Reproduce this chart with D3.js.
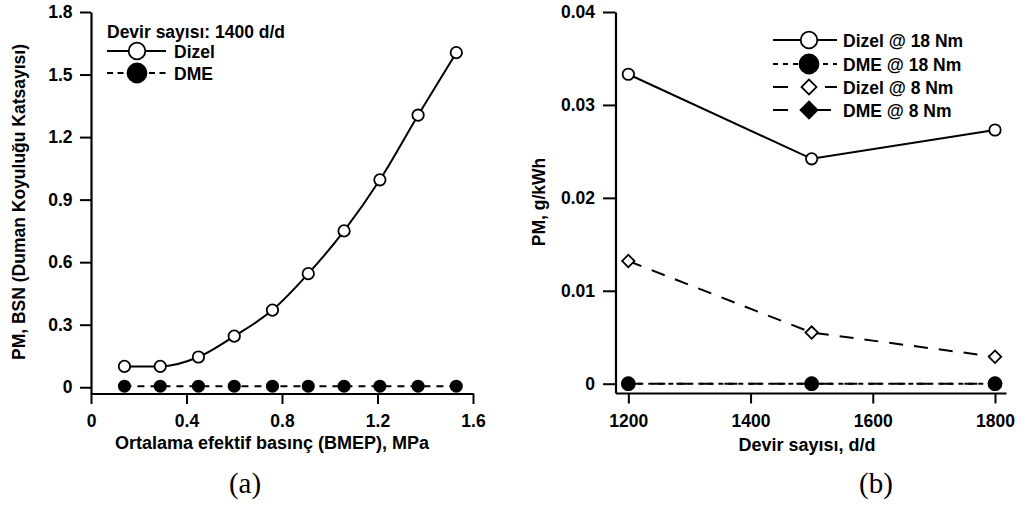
<!DOCTYPE html>
<html>
<head>
<meta charset="utf-8">
<script src="https://cdn.jsdelivr.net/npm/d3@7"></script>
<style>
  html, body { margin: 0; padding: 0; background: #fff; }
  svg { display: block; }
  text { font-family: "Liberation Sans", Arial, Helvetica, sans-serif; font-weight: bold; fill: #000; }
  .panel-tag { font-family: "Liberation Serif", "Times New Roman", serif; font-weight: normal; }
</style>
</head>
<body>
<svg id="chart" width="1018" height="505"></svg>
<script>
// ---- Panel (a): PM (BSN) vs BMEP at 1400 rpm ----
const bmep = [0.14, 0.29, 0.45, 0.60, 0.76, 0.91, 1.06, 1.21, 1.37, 1.53];
const bsnDizel = [0.10, 0.10, 0.145, 0.245, 0.37, 0.545, 0.75, 0.995, 1.305, 1.605];
const bsnDME = [0.005, 0.005, 0.005, 0.005, 0.005, 0.005, 0.005, 0.005, 0.005, 0.005];
const aXTicks = [0, 0.4, 0.8, 1.2, 1.6];
const aYTicks = [0, 0.3, 0.6, 0.9, 1.2, 1.5, 1.8];

// ---- Panel (b): PM (g/kWh) vs engine speed ----
const speeds = [1200, 1500, 1800];
const pmDizel18 = [0.0333, 0.0242, 0.0273];
const pmDME18 = [0, 0, 0];
const pmDizel8 = [0.0132, 0.0055, 0.0029];
const pmDME8 = [0, 0, 0];
const bXTicks = [1200, 1400, 1600, 1800];
const bYTicks = [0, 0.01, 0.02, 0.03, 0.04];

const svg = d3.select("#chart");
svg.append("rect").attr("width", 1018).attr("height", 505).attr("fill", "#fff");

const FS = "17.5px";

function styleAxis(g) {
  g.selectAll("path.domain").attr("stroke", "#000").attr("stroke-width", 2.2);
  g.selectAll(".tick line").attr("stroke", "#000").attr("stroke-width", 2);
  g.selectAll(".tick text").style("font-size", FS).attr("font-family", null);
  g.attr("font-family", null).attr("font-size", null);
}

// marker path generators
const circlePath = r => d3.symbol().type(d3.symbolCircle).size(Math.PI * r * r)();
const diamondPath = r => d3.symbol().type(d3.symbolSquare).size(2 * r * r)(); // rotated 45° when placed

// ================= Panel (a) =================
const ax = d3.scaleLinear().domain([0, 1.6]).range([91, 473]);
const ay = d3.scaleLinear().domain([-0.03, 1.8]).range([393.5, 12]);

const gaX = svg.append("g").attr("transform", "translate(0,393.5)")
  .call(d3.axisBottom(ax).tickValues(aXTicks).tickSizeOuter(0).tickSizeInner(10.5).tickPadding(11)
    .tickFormat(d => d === 0 ? "0" : d3.format(".1f")(d)));
styleAxis(gaX);

const gaY = svg.append("g").attr("transform", "translate(91,0)")
  .call(d3.axisLeft(ay).tickValues(aYTicks).tickSizeOuter(0).tickSizeInner(11).tickPadding(7.5)
    .tickFormat(d => d === 0 ? "0" : d3.format(".1f")(d)));
styleAxis(gaY);

svg.append("text").attr("x", 272).attr("y", 449).attr("text-anchor", "middle")
  .style("font-size", "18px").text("Ortalama efektif basınç (BMEP), MPa");
svg.append("text").attr("transform", "translate(25,202) rotate(-90)").attr("text-anchor", "middle")
  .style("font-size", FS).text("PM, BSN (Duman Koyuluğu Katsayısı)");

const aDizelPts = bmep.map((x, i) => [x, bsnDizel[i]]);
const aDMEPts = bmep.map((x, i) => [x, bsnDME[i]]);

svg.append("path").datum(aDizelPts)
  .attr("d", d3.line().x(d => ax(d[0])).y(d => ay(d[1])).curve(d3.curveMonotoneX))
  .attr("fill", "none").attr("stroke", "#000").attr("stroke-width", 2);
svg.append("path").datum(aDMEPts)
  .attr("d", d3.line().x(d => ax(d[0])).y(d => ay(d[1])))
  .attr("fill", "none").attr("stroke", "#000").attr("stroke-width", 2).attr("stroke-dasharray", "7,6");

svg.append("g").selectAll("path").data(aDMEPts).join("path")
  .attr("transform", d => `translate(${ax(d[0])},${ay(d[1])})`)
  .attr("d", circlePath(6.5)).attr("fill", "#000");
svg.append("g").selectAll("path").data(aDizelPts).join("path")
  .attr("transform", d => `translate(${ax(d[0])},${ay(d[1])})`)
  .attr("d", circlePath(5.7)).attr("fill", "#fff").attr("stroke", "#000").attr("stroke-width", 1.8);

// legend (a)
const legA = svg.append("g");
legA.append("text").attr("x", 107).attr("y", 37.5).style("font-size", FS).text("Devir sayısı: 1400 d/d");
const legARows = [
  { label: "Dizel", y: 51, dash: null, fill: "#fff", r: 8.3 },
  { label: "DME", y: 73, dash: "6,4.5", fill: "#000", r: 9.5 }
];
legARows.forEach(r => {
  legA.append("line").attr("x1", 107).attr("x2", 166).attr("y1", r.y).attr("y2", r.y)
    .attr("stroke", "#000").attr("stroke-width", 2).attr("stroke-dasharray", r.dash);
  legA.append("path").attr("transform", `translate(137,${r.y})`)
    .attr("d", circlePath(r.r)).attr("fill", r.fill).attr("stroke", "#000").attr("stroke-width", 1.8);
  legA.append("text").attr("x", 174).attr("y", r.y + 6.5).style("font-size", FS).text(r.label);
});

svg.append("text").attr("class", "panel-tag").attr("x", 245).attr("y", 493).attr("text-anchor", "middle")
  .style("font-size", "29px").text("(a)");

// ================= Panel (b) =================
const bx = d3.scaleLinear().domain([1179, 1818]).range([615.5, 1006]);
const by = d3.scaleLinear().domain([-0.001, 0.04]).range([393, 12]);

const gbX = svg.append("g").attr("transform", "translate(0,393)")
  .call(d3.axisBottom(bx).tickValues(bXTicks).tickSizeOuter(0).tickSizeInner(10.5).tickPadding(11)
    .tickFormat(d3.format("d")));
styleAxis(gbX);

const gbY = svg.append("g").attr("transform", "translate(615.5,0)")
  .call(d3.axisLeft(by).tickValues(bYTicks).tickSizeOuter(0).tickSizeInner(12.5).tickPadding(8)
    .tickFormat(d => d === 0 ? "0" : d3.format(".2f")(d)));
styleAxis(gbY);

svg.append("text").attr("x", 807).attr("y", 451).attr("text-anchor", "middle")
  .style("font-size", "18px").text("Devir sayısı, d/d");
svg.append("text").attr("transform", "translate(545,202) rotate(-90)").attr("text-anchor", "middle")
  .style("font-size", FS).text("PM, g/kWh");

// drawn in this order so the DME @ 18 Nm circles sit on top at zero
const bSeries = [
  { name: "DME @ 8 Nm", values: pmDME8, dash: "13,11", shape: "diamond", r: 6.2, fill: "#000" },
  { name: "Dizel @ 8 Nm", values: pmDizel8, dash: "14,11", shape: "diamond", r: 6.2, fill: "#fff" },
  { name: "Dizel @ 18 Nm", values: pmDizel18, dash: null, shape: "circle", r: 5.7, fill: "#fff" },
  { name: "DME @ 18 Nm", values: pmDME18, dash: "5,5", shape: "circle", r: 6.5, fill: "#000" }
];

const bLine = d3.line().x(d => bx(d[0])).y(d => by(d[1]));
bSeries.forEach(s => {
  const pts = speeds.map((x, i) => [x, s.values[i]]);
  svg.append("path").datum(pts).attr("d", bLine)
    .attr("fill", "none").attr("stroke", "#000").attr("stroke-width", 2).attr("stroke-dasharray", s.dash);
});
bSeries.forEach(s => {
  const pts = speeds.map((x, i) => [x, s.values[i]]);
  const isDiamond = s.shape === "diamond";
  svg.append("g").selectAll("path").data(pts).join("path")
    .attr("d", isDiamond ? diamondPath(s.r) : circlePath(s.r))
    .attr("transform", d => `translate(${bx(d[0])},${by(d[1])})` + (isDiamond ? " rotate(45)" : ""))
    .attr("fill", s.fill).attr("stroke", "#000").attr("stroke-width", 1.8);
});

// legend (b)
const legB = svg.append("g");
const legBRows = [
  { label: "Dizel @ 18 Nm", y: 40, dash: null, shape: "circle", fill: "#fff", r: 8.3 },
  { label: "DME @ 18 Nm", y: 64, dash: "5,5", shape: "circle", fill: "#000", r: 9.5 },
  { label: "Dizel @ 8 Nm", y: 87, dash: "15,37,12", shape: "diamond", fill: "#fff", r: 7.5 },
  { label: "DME @ 8 Nm", y: 110, dash: "15,14,29", shape: "diamond", fill: "#000", r: 8.5 }
];
legBRows.forEach(r => {
  legB.append("line").attr("x1", 773).attr("x2", 837).attr("y1", r.y).attr("y2", r.y)
    .attr("stroke", "#000").attr("stroke-width", 2).attr("stroke-dasharray", r.dash);
  legB.append("path")
    .attr("transform", `translate(809,${r.y})` + (r.shape === "diamond" ? " rotate(45)" : ""))
    .attr("d", r.shape === "circle" ? circlePath(r.r) : diamondPath(r.r))
    .attr("fill", r.fill).attr("stroke", "#000").attr("stroke-width", 1.8);
  legB.append("text").attr("x", 843).attr("y", r.y + 6.5).style("font-size", FS).text(r.label);
});

svg.append("text").attr("class", "panel-tag").attr("x", 876).attr("y", 493).attr("text-anchor", "middle")
  .style("font-size", "29px").text("(b)");
</script>
</body>
</html>
